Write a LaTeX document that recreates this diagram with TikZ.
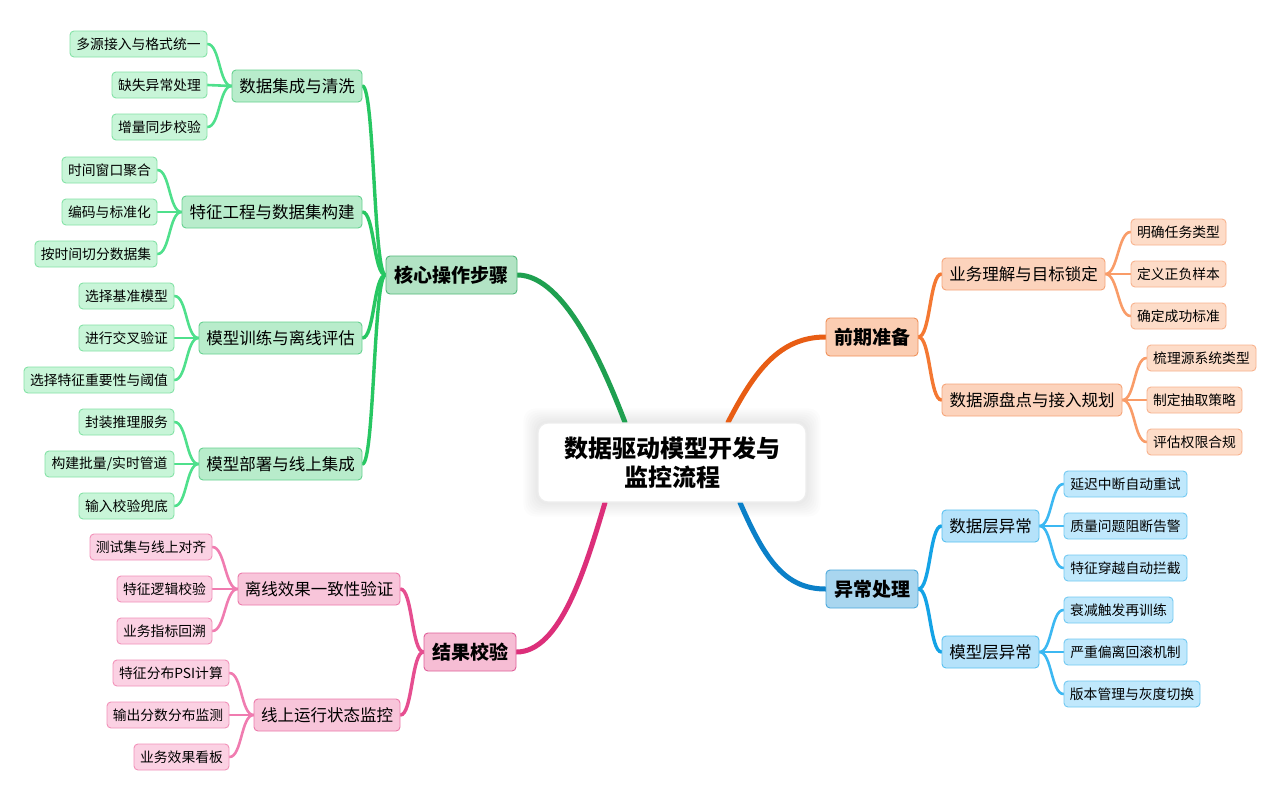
\documentclass[tikz,border=0pt]{standalone}
\usepackage{fontspec}
\setmainfont{Noto Sans CJK SC}
\usetikzlibrary{backgrounds}
\definecolor{gMain}{HTML}{1FA050}
\definecolor{gSub}{HTML}{27C762}
\definecolor{gLeaf}{HTML}{4FE08C}
\definecolor{gMF}{HTML}{B2E3C4}
\definecolor{gMD}{HTML}{52B97A}
\definecolor{gSF}{HTML}{B8ECCB}
\definecolor{gSD}{HTML}{66D290}
\definecolor{gLF}{HTML}{C8F5D8}
\definecolor{gLD}{HTML}{84E2A6}
\definecolor{oMain}{HTML}{E85D14}
\definecolor{oSub}{HTML}{F47832}
\definecolor{oLeaf}{HTML}{F99C68}
\definecolor{oMF}{HTML}{FBCDB2}
\definecolor{oMD}{HTML}{F09058}
\definecolor{oSF}{HTML}{FCD3BC}
\definecolor{oSD}{HTML}{F6A57A}
\definecolor{oLF}{HTML}{FDDCC8}
\definecolor{oLD}{HTML}{F8B38E}
\definecolor{bMain}{HTML}{0B80C8}
\definecolor{bSub}{HTML}{14A3E6}
\definecolor{bLeaf}{HTML}{3CB8F2}
\definecolor{bMF}{HTML}{A9D6EF}
\definecolor{bMD}{HTML}{4AA8DC}
\definecolor{bSF}{HTML}{B5E2FA}
\definecolor{bSD}{HTML}{58C0F0}
\definecolor{bLF}{HTML}{C0E8FC}
\definecolor{bLD}{HTML}{72C9F2}
\definecolor{pMain}{HTML}{DC2F7A}
\definecolor{pSub}{HTML}{E64E90}
\definecolor{pLeaf}{HTML}{F07CB0}
\definecolor{pMF}{HTML}{F6BDD4}
\definecolor{pMD}{HTML}{E0609A}
\definecolor{pSF}{HTML}{F8C5DA}
\definecolor{pSD}{HTML}{EC7AAA}
\definecolor{pLF}{HTML}{FBD1E3}
\definecolor{pLD}{HTML}{F292BA}
\tikzset{
  box/.style={rectangle, rounded corners=4pt, inner sep=0pt, line width=0.9pt, text=black},
  leafbox/.style={box, minimum height=26pt, font=\fontsize{13.8}{16}\selectfont},
  subbox/.style={box, minimum height=32pt, font=\fontsize{16.5}{19}\selectfont},
  mainbox/.style={box, minimum height=38pt, font=\bfseries\fontsize{19}{22}\selectfont},
  gL/.style={leafbox, fill=gLF, draw=gLD},
  gS/.style={subbox, fill=gSF, draw=gSD},
  gM/.style={mainbox, fill=gMF, draw=gMD},
  oL/.style={leafbox, fill=oLF, draw=oLD},
  oS/.style={subbox, fill=oSF, draw=oSD},
  oM/.style={mainbox, fill=oMF, draw=oMD},
  bL/.style={leafbox, fill=bLF, draw=bLD},
  bS/.style={subbox, fill=bSF, draw=bSD},
  bM/.style={mainbox, fill=bMF, draw=bMD},
  pL/.style={leafbox, fill=pLF, draw=pLD},
  pS/.style={subbox, fill=pSF, draw=pSD},
  pM/.style={mainbox, fill=pMF, draw=pMD},
  mainline/.style={line width=5pt, line cap=round},
  subline/.style={line width=3.4pt, line cap=round},
  leafline/.style={line width=2.6pt, line cap=round},
  halo/.style={fill=black, fill opacity=0.012, rounded corners=#1},
}
\begin{document}
\begin{tikzpicture}[x=1pt,y=-1pt]
\useasboundingbox (0,0) rectangle (1280,801);
% center
\node[box, rounded corners=10pt, fill=white, draw=black!7, line width=1.2pt, minimum width=268pt, minimum height=79pt, align=center, font=\bfseries\fontsize{24}{29}\selectfont] (center) at (672,462.5) {数据驱动模型开发与\\监控流程};
% main branches
\node[gM, minimum width=131pt] (core) at (451.5,275) {核心操作步骤};
\node[oM, minimum width=92pt] (prep) at (872,337) {前期准备};
\node[bM, minimum width=92pt] (exc) at (872,589) {异常处理};
\node[pM, minimum width=92pt] (res) at (470,652) {结果校验};
% green subs
\node[gS, minimum width=130pt] (g1) at (297,86) {数据集成与清洗};
\node[gS, minimum width=180pt] (g2) at (272,212) {特征工程与数据集构建};
\node[gS, minimum width=163pt] (g3) at (280.5,338) {模型训练与离线评估};
\node[gS, minimum width=163pt] (g4) at (280.5,464) {模型部署与线上集成};
% green leaves
\node[gL, minimum width=137pt] (g1a) at (138.5,44) {多源接入与格式统一};
\node[gL, minimum width=95pt] (g1b) at (159.5,85) {缺失异常处理};
\node[gL, minimum width=95pt] (g1c) at (159.5,127) {增量同步校验};
\node[gL, minimum width=95pt] (g2a) at (109.5,170) {时间窗口聚合};
\node[gL, minimum width=95pt] (g2b) at (109.5,212) {编码与标准化};
\node[gL, minimum width=122pt] (g2c) at (96,254) {按时间切分数据集};
\node[gL, minimum width=95pt] (g3a) at (126.5,296) {选择基准模型};
\node[gL, minimum width=95pt] (g3b) at (126.5,338) {进行交叉验证};
\node[gL, minimum width=150pt] (g3c) at (99,380) {选择特征重要性与阈值};
\node[gL, minimum width=95pt] (g4a) at (126.5,422) {封装推理服务};
\node[gL, minimum width=129pt] (g4b) at (109.5,464) {构建批量/实时管道};
\node[gL, minimum width=95pt] (g4c) at (126.5,506) {输入校验兜底};
% orange
\node[oS, minimum width=163pt] (o1) at (1023.5,274) {业务理解与目标锁定};
\node[oS, minimum width=180pt] (o2) at (1032,400) {数据源盘点与接入规划};
\node[oL, minimum width=95pt] (o1a) at (1178.5,232) {明确任务类型};
\node[oL, minimum width=95pt] (o1b) at (1178.5,274) {定义正负样本};
\node[oL, minimum width=95pt] (o1c) at (1178.5,316) {确定成功标准};
\node[oL, minimum width=109pt] (o2a) at (1201.5,358) {梳理源系统类型};
\node[oL, minimum width=95pt] (o2b) at (1194.5,400) {制定抽取策略};
\node[oL, minimum width=95pt] (o2c) at (1194.5,442) {评估权限合规};
% blue
\node[bS, minimum width=97pt] (b1) at (990.5,526) {数据层异常};
\node[bS, minimum width=97pt] (b2) at (990.5,652) {模型层异常};
\node[bL, minimum width=123pt] (b1a) at (1125.5,484) {延迟中断自动重试};
\node[bL, minimum width=123pt] (b1b) at (1125.5,526) {质量问题阻断告警};
\node[bL, minimum width=123pt] (b1c) at (1125.5,568) {特征穿越自动拦截};
\node[bL, minimum width=109pt] (b2a) at (1118.5,610) {衰减触发再训练};
\node[bL, minimum width=123pt] (b2b) at (1125.5,652) {严重偏离回滚机制};
\node[bL, minimum width=136pt] (b2c) at (1132,694) {版本管理与灰度切换};
% pink
\node[pS, minimum width=162pt] (p1) at (319,589) {离线效果一致性验证};
\node[pS, minimum width=146pt] (p2) at (327,715) {线上运行状态监控};
\node[pL, minimum width=122pt] (p1a) at (151,547) {测试集与线上对齐};
\node[pL, minimum width=95pt] (p1b) at (164.5,589) {特征逻辑校验};
\node[pL, minimum width=95pt] (p1c) at (164.5,631) {业务指标回溯};
\node[pL, minimum width=116pt] (p2a) at (171,673) {特征分布PSI计算};
\node[pL, minimum width=122pt] (p2b) at (168,715) {输出分数分布监测};
\node[pL, minimum width=95pt] (p2c) at (181.5,757) {业务效果看板};

\begin{scope}[on background layer]
\fill[white] (0,0) rectangle (1280,801);
% soft shadow around the centre box
\foreach \d in {2,4,6,8,10,12,14}
  \fill[halo=12pt] ([shift={(-\d pt,-\d pt)}]center.south west) rectangle ([shift={(\d pt,\d pt)}]center.north east);
% main connectors
\draw[mainline, gMain] ([xshift=-47pt]center.north) .. controls (605,370) and (565,275) .. (core.east);
\draw[mainline, oMain] ([xshift=56pt]center.north) .. controls (755,370) and (780,337) .. (prep.west);
\draw[mainline, bMain] ([xshift=68pt]center.south) .. controls (765,560) and (785,589) .. (exc.west);
\draw[mainline, pMain] ([xshift=-67pt]center.south) .. controls (585,570) and (560,652) .. (res.east);
% green sub connectors
\foreach \s in {g1,g2,g3,g4}
  \draw[subline, gSub] (core.west) .. controls +(-12,0) and +(12,0) .. (\s.east);
\foreach \s/\l in {g1/g1a,g1/g1b,g1/g1c,g2/g2a,g2/g2b,g2/g2c,g3/g3a,g3/g3b,g3/g3c,g4/g4a,g4/g4b,g4/g4c}
  \draw[leafline, gLeaf] (\s.west) .. controls +(-12.5,0) and +(12.5,0) .. (\l.east);
% orange
\foreach \s in {o1,o2}
  \draw[subline, oSub] (prep.east) .. controls +(12,0) and +(-12,0) .. (\s.west);
\foreach \s/\l in {o1/o1a,o1/o1b,o1/o1c,o2/o2a,o2/o2b,o2/o2c}
  \draw[leafline, oLeaf] (\s.east) .. controls +(12.5,0) and +(-12.5,0) .. (\l.west);
% blue
\foreach \s in {b1,b2}
  \draw[subline, bSub] (exc.east) .. controls +(12,0) and +(-12,0) .. (\s.west);
\foreach \s/\l in {b1/b1a,b1/b1b,b1/b1c,b2/b2a,b2/b2b,b2/b2c}
  \draw[leafline, bLeaf] (\s.east) .. controls +(12.5,0) and +(-12.5,0) .. (\l.west);
% pink
\foreach \s in {p1,p2}
  \draw[subline, pSub] (res.west) .. controls +(-12,0) and +(12,0) .. (\s.east);
\foreach \s/\l in {p1/p1a,p1/p1b,p1/p1c,p2/p2a,p2/p2b,p2/p2c}
  \draw[leafline, pLeaf] (\s.west) .. controls +(-12.5,0) and +(12.5,0) .. (\l.east);
\end{scope}
\end{tikzpicture}
\end{document}
